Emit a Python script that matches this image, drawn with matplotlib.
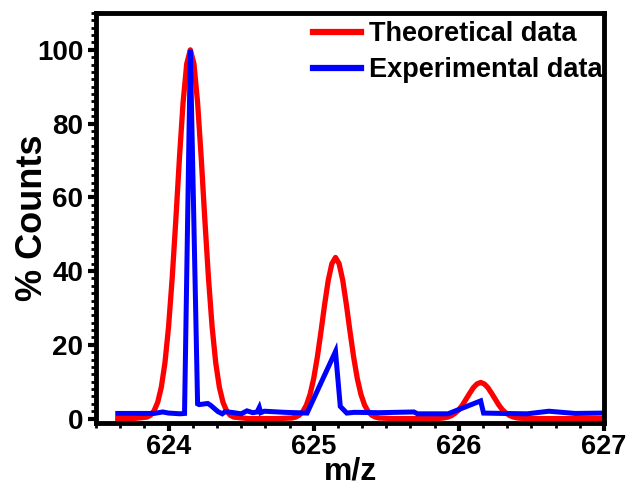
import matplotlib
matplotlib.use("Agg")
import matplotlib.pyplot as plt
from matplotlib.ticker import MultipleLocator, AutoMinorLocator

# ---- data ----
theo_mz = [623.65, 623.75,
           623.85, 623.875, 623.9, 623.925, 623.95, 623.975, 624.0, 624.025, 624.05, 624.075, 624.1, 624.125,
           624.15,
           624.175, 624.2, 624.225, 624.25, 624.275, 624.3, 624.325, 624.35, 624.375, 624.4, 624.425, 624.45,
           624.55, 624.65, 624.75,
           624.85, 624.875, 624.9, 624.925, 624.95, 624.975, 625.0, 625.025, 625.05, 625.075, 625.1, 625.125,
           625.15,
           625.175, 625.2, 625.225, 625.25, 625.275, 625.3, 625.325, 625.35, 625.375, 625.4, 625.425, 625.45,
           625.55, 625.65, 625.75,
           625.85, 625.875, 625.9, 625.925, 625.95, 625.975, 626.0, 626.025, 626.05, 626.075, 626.1, 626.125,
           626.15,
           626.175, 626.2, 626.225, 626.25, 626.275, 626.3, 626.325, 626.35, 626.375, 626.4, 626.425, 626.45,
           626.6, 626.8, 627.0]
theo_pct = [0.0, 0.0,
            0.4, 0.9, 2.1, 4.4, 8.5, 15.1, 24.9, 38.1, 53.9, 70.7, 85.7, 96.2,
            100.0,
            96.2, 85.7, 70.7, 53.9, 38.1, 24.9, 15.1, 8.5, 4.4, 2.1, 0.9, 0.4,
            0.0, 0.0, 0.0,
            0.17, 0.41, 0.92, 1.9, 3.7, 6.6, 10.9, 16.7, 23.6, 30.9, 37.5, 42.0,
            43.7,
            42.0, 37.5, 30.9, 23.6, 16.7, 10.9, 6.6, 3.7, 1.9, 0.92, 0.41, 0.17,
            0.0, 0.0, 0.0,
            0.04, 0.09, 0.21, 0.43, 0.83, 1.5, 2.4, 3.7, 5.3, 6.9, 8.4, 9.4,
            9.8,
            9.4, 8.4, 6.9, 5.3, 3.7, 2.4, 1.5, 0.83, 0.43, 0.21, 0.09, 0.04,
            0.0, 0.0, 0.0]

exp_mz = [623.65, 623.9, 623.96, 624.0, 624.08, 624.11, 624.15, 624.2, 624.21, 624.27, 624.29,
          624.34, 624.37, 624.39, 624.45, 624.5, 624.54, 624.58, 624.61, 624.625, 624.635, 624.66,
          624.8, 624.954, 625.15, 625.183, 625.228, 625.28, 625.45, 625.69, 625.715, 625.925,
          626.15, 626.17, 626.3, 626.47, 626.62, 626.8, 627.0]
exp_pct = [1.4, 1.4, 1.8, 1.5, 1.3, 1.4, 100.0, 4.0, 3.8, 4.1, 3.6,
           1.9, 1.3, 1.9, 1.6, 1.3, 2.1, 1.6, 1.8, 3.0, 1.6, 2.0,
           1.7, 1.5, 18.2, 3.3, 1.5, 1.7, 1.6, 1.8, 1.3, 1.3,
           4.8, 1.5, 1.4, 1.3, 2.0, 1.4, 1.5]

series_labels = ["Theoretical data", "Experimental data"]
x_label = "m/z"
y_label = "% Counts"

# ---- figure ----
plt.rcParams['font.family'] = ['Liberation Sans', 'DejaVu Sans']
plt.rcParams['font.weight'] = 'bold'

fig = plt.figure(figsize=(6.29, 4.92), dpi=100)
ax = fig.add_axes([0.1526, 0.1402, 0.8077, 0.8334])

ax.plot(theo_mz, theo_pct, color='#ff0000', lw=3.8, label=series_labels[0], solid_joinstyle='round')
ax.plot(exp_mz, exp_pct, color='#0000ff', lw=3.6, label=series_labels[1], solid_joinstyle='miter')

ax.set_xlim(623.5, 627.0)
ax.set_ylim(-1.2, 110)

ax.xaxis.set_major_locator(MultipleLocator(1))
ax.xaxis.set_minor_locator(AutoMinorLocator(6))
ax.yaxis.set_major_locator(MultipleLocator(20))
ax.yaxis.set_minor_locator(AutoMinorLocator(10))

for s in ax.spines.values():
    s.set_linewidth(3.5)

ax.tick_params(which='major', direction='out', length=6, width=3, labelsize=20, pad=3)
ax.tick_params(axis='x', which='major', labelsize=19.5, pad=2)
ax.tick_params(which='minor', direction='out', length=3.5, width=2)
for lab in ax.get_xticklabels() + ax.get_yticklabels():
    lab.set_fontweight('bold')

ax.set_xlabel(x_label, fontsize=23, fontweight='bold')
ax.set_ylabel(y_label, fontsize=26, fontweight='bold')
ax.xaxis.set_label_coords(0.5, -0.082)
ax.yaxis.set_label_coords(-0.09, 0.5)

leg = ax.legend(loc='upper right', bbox_to_anchor=(1.005, 0.99), frameon=False,
                fontsize=19.5, handlelength=1.75, handletextpad=0.3, labelspacing=0.38,
                borderaxespad=0.0, borderpad=0.15)
for t in leg.get_texts():
    t.set_fontweight('bold')
for h in leg.get_lines():
    h.set_linewidth(4.5)

fig.savefig('out.png', dpi=100)
